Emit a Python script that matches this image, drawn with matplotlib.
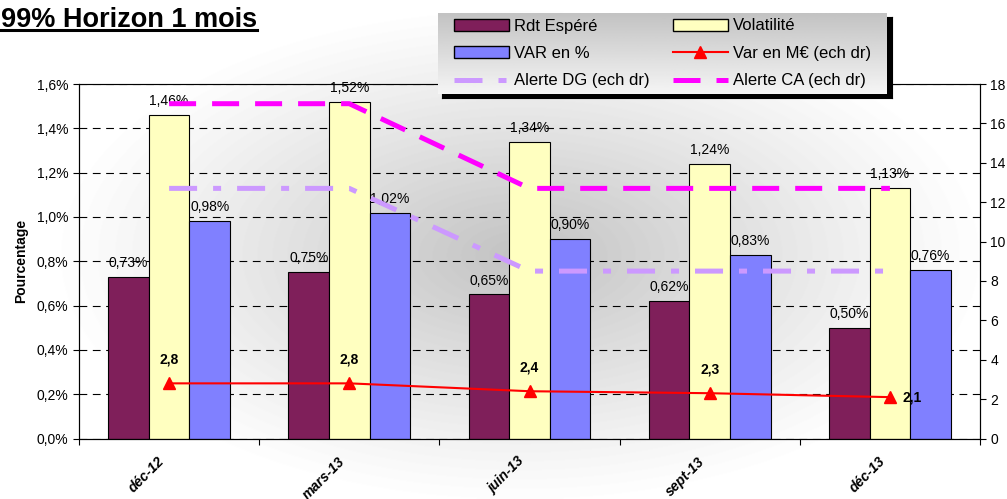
# Librerias
import numpy as np
import matplotlib
matplotlib.use("Agg")
import matplotlib.pyplot as plt
from matplotlib.ticker import FuncFormatter, FixedLocator
from matplotlib.patches import Patch
from matplotlib.lines import Line2D

plt.rcParams['font.family'] = ['Liberation Sans', 'DejaVu Sans']

# Données
periodes = ['déc-12', 'mars-13', 'juin-13', 'sept-13', 'déc-13']
rdt_espere = [0.73, 0.75, 0.65, 0.62, 0.50]      # en %
volatilite = [1.46, 1.52, 1.34, 1.24, 1.13]      # en %
var_pct = [0.98, 1.02, 0.90, 0.83, 0.76]         # en %
var_meur = [2.8, 2.8, 2.4, 2.3, 2.1]             # M€ (échelle droite)
alerte_dg = [12.7, 12.7, 8.5, 8.5, 8.5]          # échelle droite
alerte_ca = [17, 17, 12.7, 12.7, 12.7]           # échelle droite

c_rdt = '#7f1f5a'
c_vol = '#ffffc0'
c_var = '#8080ff'
c_varm = '#ff0000'
c_dg = '#cc99ff'
c_ca = '#ff00ff'

W, H = 1007, 499
fig = plt.figure(figsize=(W / 100, H / 100), dpi=100)

# Fond en dégradé radial
bg = fig.add_axes([0, 0, 1, 1], zorder=-10)
yy, xx = np.mgrid[0:H, 0:W]
r = np.sqrt(((xx - 520) / 470.0) ** 2 + ((yy - 255) / 250.0) ** 2)
val = 1 - 0.24 * np.clip(1 - r, 0, 1) ** 1.1
bg.imshow(val, cmap='gray', vmin=0, vmax=1, aspect='auto', extent=[0, 1, 0, 1])
bg.axis('off')

# Axe principal
ax = fig.add_axes([79 / W, 1 - 438.5 / H, (980 - 79) / W, (438.5 - 84) / H], zorder=1)
ax.patch.set_alpha(0)
x = np.arange(len(periodes))
bw = 0.225
ax.bar(x - bw, rdt_espere, bw, color=c_rdt, edgecolor='black', linewidth=0.8, zorder=2)
ax.bar(x, volatilite, bw, color=c_vol, edgecolor='black', linewidth=0.8, zorder=2)
ax.bar(x + bw, var_pct, bw, color=c_var, edgecolor='black', linewidth=0.8, zorder=2)

for serie, dx in [(rdt_espere, -bw), (volatilite, 0), (var_pct, bw)]:
    for i, v in enumerate(serie):
        ax.annotate(f"{v:.2f}%".replace('.', ','), (x[i] + dx, v), xytext=(0, 5),
                    textcoords='offset points', ha='center', va='bottom', fontsize=10, zorder=5)

ax.set_xlim(-0.5, len(periodes) - 0.5)
ax.set_ylim(0, 1.6)
ax.set_yticks(np.arange(0, 1.61, 0.2))
ax.yaxis.set_major_formatter(FuncFormatter(lambda v, p: f"{v:.1f}%".replace('.', ',')))
ax.yaxis.grid(True, color='black', linestyle=(0, (7, 5)), linewidth=0.8)
ax.set_axisbelow(True)
ax.tick_params(axis='y', direction='out', length=4, labelsize=10)
ax.set_ylabel('Pourcentage', fontsize=10, fontweight='bold', labelpad=6)

# Ticks x : traits aux limites, étiquettes au centre
ax.xaxis.set_major_locator(FixedLocator(np.arange(-0.5, len(periodes), 1.0)))
ax.set_xticklabels([])
ax.tick_params(axis='x', which='major', direction='out', length=4)
for i, p in enumerate(periodes):
    ax.annotate(p, (x[i], 0), xycoords=('data', 'axes fraction'), xytext=(-5, -15),
                textcoords='offset points', rotation=45, ha='right', va='center',
                rotation_mode='anchor', fontsize=10, fontweight='bold', fontstyle='italic',
                annotation_clip=False)
ax.spines['top'].set_color('#808080')
for s in ['left', 'bottom', 'right']:
    ax.spines[s].set_color('black')

# Axe secondaire
ax2 = ax.twinx()
ax2.set_ylim(0, 18)
ax2.set_yticks(np.arange(0, 19, 2))
ax2.tick_params(axis='y', direction='out', length=4, labelsize=10)
ax2.plot(x, alerte_dg, color=c_dg, linewidth=3.6, dashes=(5.6, 3.2, 1.6, 3.2), zorder=3)
ax2.plot(x, alerte_ca, color=c_ca, linewidth=3.6, dashes=(5.4, 3.2), zorder=3)
ax2.plot(x, var_meur, color=c_varm, linewidth=1.5, marker='^', markersize=9, zorder=4)
for i, v in enumerate(var_meur):
    txt = f"{v:.1f}".replace('.', ',')
    if i == len(var_meur) - 1:
        ax2.annotate(txt, (x[i], v), xytext=(9, 0), textcoords='offset points',
                     ha='left', va='center', fontsize=10, fontweight='bold')
    else:
        ax2.annotate(txt, (x[i], v), xytext=(0, 17), textcoords='offset points',
                     ha='center', va='center', fontsize=10, fontweight='bold')

# Titre souligné
t = fig.text(1 / W, 1 - 27 / H, '99% Horizon 1 mois', fontsize=19.5, fontweight='bold',
             ha='left', va='baseline')
fig.canvas.draw()
bb = t.get_window_extent().transformed(fig.transFigure.inverted())
fig.add_artist(Line2D([bb.x0, bb.x1], [1 - 30 / H, 1 - 30 / H], color='black', linewidth=2.2))

# Légende avec fond en dégradé et ombre
lx0, lx1, ly0, ly1 = 438, 887, 13, 94
sh = fig.add_axes([(lx0 + 4) / W, 1 - (ly1 + 4) / H, (lx1 - lx0 + 1) / W, (ly1 - ly0) / H], zorder=3)
sh.set_facecolor('black')
sh.set_xticks([])
sh.set_yticks([])
lg = fig.add_axes([lx0 / W, 1 - ly1 / H, (lx1 - lx0) / W, (ly1 - ly0) / H], zorder=4)
grad = np.linspace(0.76, 0.96, 100).reshape(-1, 1)
lg.imshow(grad, cmap='gray', vmin=0, vmax=1, aspect='auto', extent=[0, 1, 0, 1])
lg.axis('off')

handles = [
    Patch(facecolor=c_rdt, edgecolor='black', label='Rdt Espéré'),
    Patch(facecolor=c_var, edgecolor='black', label='VAR en %'),
    Line2D([], [], color=c_dg, linewidth=3.6, dashes=(5.6, 3.2, 1.6, 3.2), label='Alerte DG (ech dr)'),
    Patch(facecolor=c_vol, edgecolor='black', label='Volatilité'),
    Line2D([], [], color=c_varm, linewidth=1.5, marker='^', markersize=9, label='Var en M€ (ech dr)'),
    Line2D([], [], color=c_ca, linewidth=3.6, dashes=(5.4, 3.2), label='Alerte CA (ech dr)'),
]
fig.legend(handles=handles, ncol=2, loc='center',
           bbox_to_anchor=((lx0 + lx1) / 2 / W, 1 - (ly0 + ly1) / 2 / H),
           frameon=False, fontsize=12, handlelength=3.3, handleheight=0.7,
           handletextpad=0.3, columnspacing=1.4, labelspacing=0.75)

fig.savefig('out.png', dpi=100)
